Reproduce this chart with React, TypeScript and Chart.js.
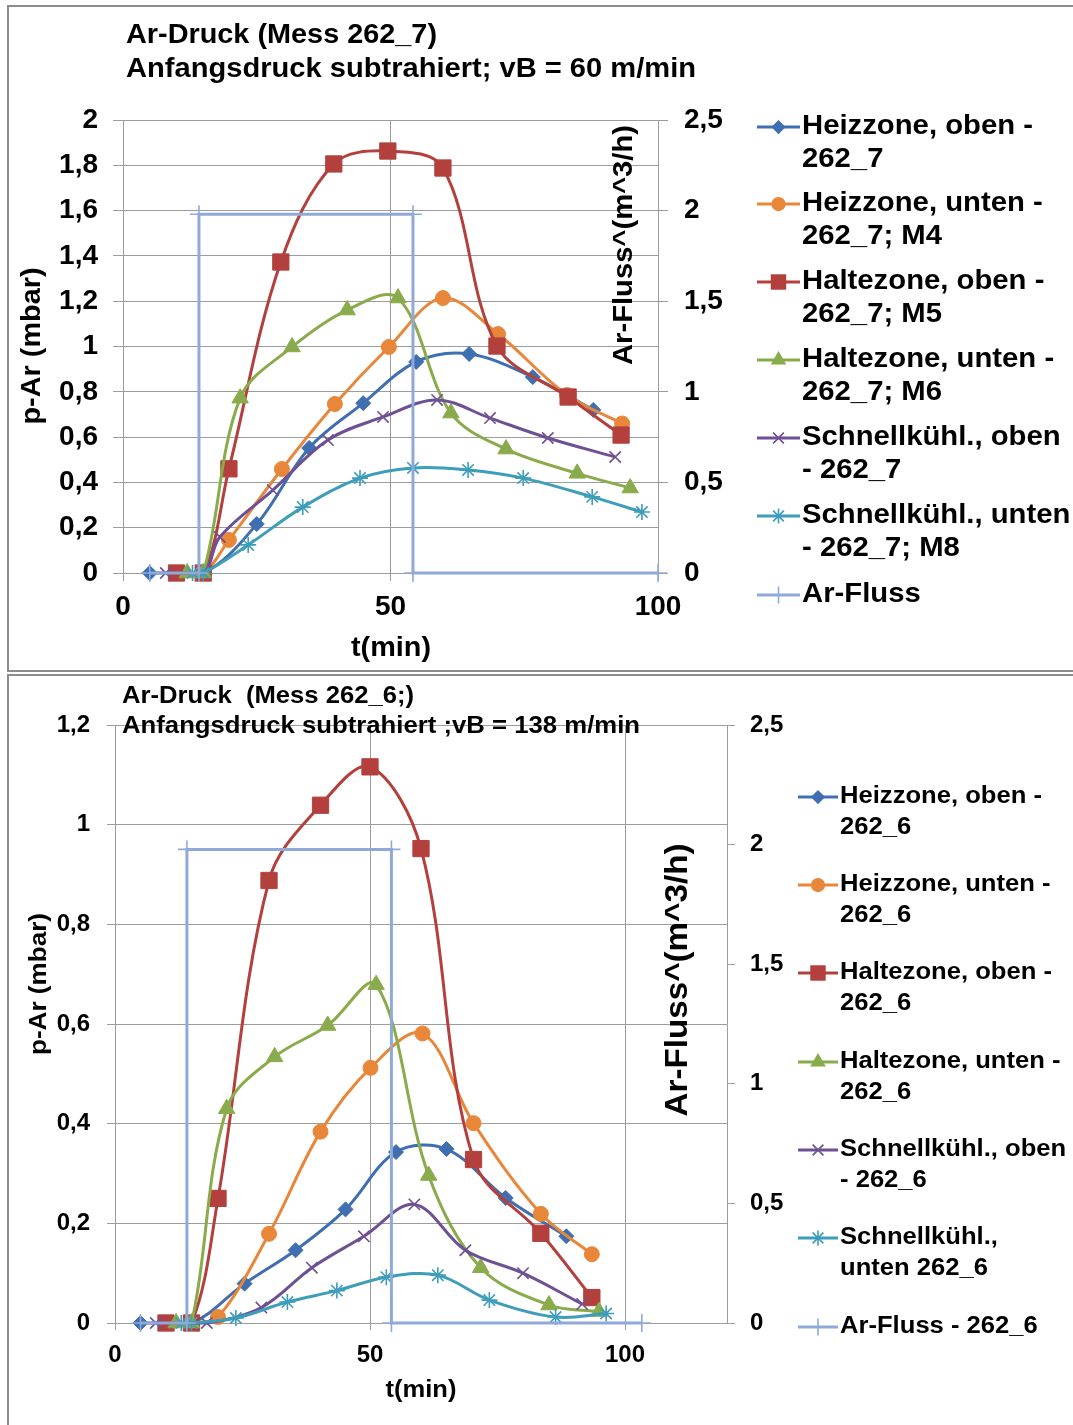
import React, { useEffect, useRef } from "react";
import { Chart, registerables } from "chart.js";

Chart.register(...registerables);

// ---------------- DATA ----------------
// Top chart (Mess 262_7)
const titleTop = ["Ar-Druck (Mess 262_7)", "Anfangsdruck subtrahiert; vB = 60 m/min"];
const legendTop = [
  ["Heizzone, oben -", "262_7"],
  ["Heizzone, unten -", "262_7; M4"],
  ["Haltezone, oben -", "262_7; M5"],
  ["Haltezone, unten -", "262_7; M6"],
  ["Schnellkühl., oben", "- 262_7"],
  ["Schnellkühl., unten", "- 262_7; M8"],
  ["Ar-Fluss"],
];
const tHeizObenTop = [5, 15, 25, 34.8, 44.9, 54.8, 64.7, 76.6, 87.9];
const vHeizObenTop = [0, 0, 0.216, 0.552, 0.75, 0.932, 0.967, 0.865, 0.72];
const tHeizUntenTop = [10, 15, 19.8, 29.7, 39.6, 49.7, 59.8, 70.1, 83.0, 93.3];
const vHeizUntenTop = [0, 0, 0.146, 0.459, 0.746, 0.998, 1.214, 1.055, 0.786, 0.66];
const tHalteObenTop = [10, 15, 19.8, 29.5, 39.4, 49.5, 59.8, 69.9, 83.2, 93.1];
const vHalteObenTop = [0, 0, 0.46, 1.373, 1.806, 1.863, 1.788, 1.002, 0.777, 0.609];
const tHalteUntenTop = [12, 15, 21.9, 31.6, 41.9, 51.4, 61.3, 71.6, 84.9, 94.8];
const vHalteUntenTop = [0, 0, 0.772, 0.998, 1.161, 1.214, 0.706, 0.547, 0.44, 0.375];
const tSchnellObenTop = [8, 15, 18.1, 28, 38.3, 48.6, 58.7, 68.6, 79.4, 92];
const vSchnellObenTop = [0, 0, 0.159, 0.366, 0.587, 0.689, 0.764, 0.684, 0.596, 0.512];
const tSchnellUntenTop = [13, 15, 23.4, 33.6, 44.3, 54.2, 64.5, 74.8, 87.7, 97];
const vSchnellUntenTop = [0, 0, 0.124, 0.291, 0.419, 0.464, 0.455, 0.419, 0.336, 0.269];
const tFlussTop = [5, 14.2, 14.2, 54.2, 54.2, 100];
const vFlussTop = [0, 0, 1.98, 1.98, 0, 0];

// Bottom chart (Mess 262_6)
const titleBot = ["Ar-Druck  (Mess 262_6;)", "Anfangsdruck subtrahiert ;vB = 138 m/min"];
const legendBot = [
  ["Heizzone, oben -", "262_6"],
  ["Heizzone, unten -", "262_6"],
  ["Haltezone, oben -", "262_6"],
  ["Haltezone, unten -", "262_6"],
  ["Schnellkühl., oben", "- 262_6"],
  ["Schnellkühl.,", "unten 262_6"],
  ["Ar-Fluss - 262_6"],
];
const tHeizObenBot = [5, 15, 25.4, 35.4, 45.2, 55.1, 65, 76.6, 88.5];
const vHeizObenBot = [0, 0, 0.079, 0.146, 0.228, 0.343, 0.349, 0.251, 0.174];
const tHeizUntenBot = [10, 15, 20.2, 30.2, 40.3, 50.1, 60.3, 70.3, 83.5, 93.5];
const vHeizUntenBot = [0, 0, 0.012, 0.179, 0.384, 0.512, 0.581, 0.401, 0.219, 0.138];
const tHalteObenBot = [10, 15, 20.2, 30.2, 40.3, 50, 60, 70.3, 83.5, 93.5];
const vHalteObenBot = [0, 0, 0.25, 0.888, 1.039, 1.116, 0.952, 0.328, 0.18, 0.051];
const tHalteUntenBot = [12, 15, 21.9, 31.3, 41.7, 51.2, 61.5, 71.7, 85.1, 94.9];
const vHalteUntenBot = [0, 0, 0.43, 0.534, 0.597, 0.679, 0.296, 0.111, 0.036, 0.023];
const tSchnellObenBot = [8, 18, 28.7, 38.6, 48.8, 58.7, 68.7, 80, 91.6];
const vSchnellObenBot = [0, 0, 0.031, 0.111, 0.174, 0.238, 0.146, 0.1, 0.038];
const tSchnellUntenBot = [13, 15, 23.7, 33.8, 43.5, 53.2, 63.3, 73.4, 86.4, 96.3];
const vSchnellUntenBot = [0, 0, 0.01, 0.042, 0.065, 0.092, 0.096, 0.046, 0.012, 0.019];
const tFlussBot = [5, 14.1, 14.1, 54.2, 54.2, 103.3];
const vFlussBot = [0, 0, 1.98, 1.98, 0, 0];

// ---------------- STYLE ----------------
const FONT = '"Liberation Sans", Arial, Helvetica, sans-serif';
const GRID = "#9c9c9c";
const COLORS = ["#3F6FB0", "#E8873A", "#B3403D", "#8AAB4B", "#6E5095", "#3E9DBB", "#8FAAD8"];
const STYLES = ["rectRot", "circle", "rect", "triangle", "crossRot", "star", "cross"];
const RADII = [7.5, 7.5, 11.5, 9.5, 8, 8, 9];

const fmt = (v: number) => String(Math.round(v * 10) / 10).replace(".", ",");
const pts = (ts: number[], vs: number[]) => ts.map((t, i) => ({ x: t, y: vs[i] }));

function makeDatasets(series: { x: number; y: number }[][]) {
  return series.map((data, i) => {
    const isFluss = i === 6;
    const cross = STYLES[i] === "crossRot" || STYLES[i] === "star" || STYLES[i] === "cross";
    return {
      data,
      yAxisID: isFluss ? "y2" : "y",
      borderColor: COLORS[i],
      backgroundColor: COLORS[i],
      borderWidth: 3,
      tension: isFluss ? 0 : 0.35,
      pointStyle: STYLES[i],
      pointRadius: RADII[i],
      pointBorderWidth: cross ? 1.6 : 1,
      pointBorderColor: COLORS[i],
      pointBackgroundColor: COLORS[i],
      clip: false,
      order: 10 - i,
    };
  });
}

function drawText(
  ctx: CanvasRenderingContext2D,
  s: string,
  x: number,
  y: number,
  size: number,
  o: { align?: CanvasTextAlign; fit?: number; sx?: number; rot?: number; weight?: string } = {}
) {
  ctx.save();
  ctx.font = `${o.weight ?? "bold"} ${size}px ${FONT}`;
  ctx.fillStyle = "#000";
  ctx.textBaseline = "middle";
  ctx.textAlign = o.align ?? "left";
  const w = ctx.measureText(s).width;
  const sx = o.fit ? o.fit / w : o.sx ?? 1;
  ctx.translate(x, y);
  if (o.rot) ctx.rotate(o.rot);
  ctx.scale(sx, 1);
  ctx.fillText(s, 0, 0);
  ctx.restore();
}

function drawMarker(ctx: CanvasRenderingContext2D, style: string, x: number, y: number, r: number, color: string) {
  ctx.save();
  ctx.fillStyle = color;
  ctx.strokeStyle = color;
  ctx.lineWidth = 1.6;
  ctx.beginPath();
  if (style === "circle") {
    ctx.arc(x, y, r, 0, Math.PI * 2);
    ctx.fill();
  } else if (style === "rect") {
    const s = r * Math.SQRT1_2;
    ctx.rect(x - s, y - s, 2 * s, 2 * s);
    ctx.fill();
  } else if (style === "rectRot") {
    ctx.moveTo(x - r, y);
    ctx.lineTo(x, y - r);
    ctx.lineTo(x + r, y);
    ctx.lineTo(x, y + r);
    ctx.closePath();
    ctx.fill();
  } else if (style === "triangle") {
    let a = 0;
    ctx.moveTo(x + Math.sin(a) * r, y - Math.cos(a) * r);
    a += (2 * Math.PI) / 3;
    ctx.lineTo(x + Math.sin(a) * r, y - Math.cos(a) * r);
    a += (2 * Math.PI) / 3;
    ctx.lineTo(x + Math.sin(a) * r, y - Math.cos(a) * r);
    ctx.closePath();
    ctx.fill();
  } else {
    const d = r * Math.SQRT1_2;
    if (style === "crossRot" || style === "star") {
      ctx.moveTo(x - d, y - d);
      ctx.lineTo(x + d, y + d);
      ctx.moveTo(x - d, y + d);
      ctx.lineTo(x + d, y - d);
    }
    if (style === "cross" || style === "star") {
      ctx.moveTo(x, y - r);
      ctx.lineTo(x, y + r);
      ctx.moveTo(x - r, y);
      ctx.lineTo(x + r, y);
    }
    ctx.stroke();
  }
  ctx.restore();
}

type Decor = {
  titles: string[];
  titleX: number;
  titleY: number[];
  titleSize: number;
  titleFit: number[];
  legend: string[][];
  legendY: number[];
  legendGap: number;
  legendSize: number;
  legendFit: number;
  lineX: [number, number];
  textX: number;
  xTitle: [number, number, number, number];
  yTitle: [number, number, number, number];
  y2Title: [number, number, number, number];
};

function decorPlugin(d: Decor) {
  return {
    id: "decor",
    afterDraw(chart: any) {
      const ctx: CanvasRenderingContext2D = chart.ctx;
      d.titles.forEach((t, i) => drawText(ctx, t, d.titleX, d.titleY[i], d.titleSize, { fit: d.titleFit[i] }));
      // axis titles
      drawText(ctx, "t(min)", d.xTitle[0], d.xTitle[1], d.xTitle[2], { align: "center", fit: d.xTitle[3] });
      drawText(ctx, "p-Ar (mbar)", d.yTitle[0], d.yTitle[1], d.yTitle[2], {
        align: "center",
        fit: d.yTitle[3],
        rot: -Math.PI / 2,
      });
      drawText(ctx, "Ar-Fluss^(m^3/h)", d.y2Title[0], d.y2Title[1], d.y2Title[2], {
        align: "center",
        fit: d.y2Title[3],
        rot: -Math.PI / 2,
      });
      // legend
      ctx.save();
      ctx.font = `bold ${d.legendSize}px ${FONT}`;
      const sx = d.legendFit / ctx.measureText(d.legend[0][0]).width;
      ctx.restore();
      d.legend.forEach((lines, i) => {
        const y = d.legendY[i];
        ctx.save();
        ctx.strokeStyle = COLORS[i];
        ctx.lineWidth = 3;
        ctx.beginPath();
        ctx.moveTo(d.lineX[0], y);
        ctx.lineTo(d.lineX[1], y);
        ctx.stroke();
        ctx.restore();
        drawMarker(ctx, STYLES[i], (d.lineX[0] + d.lineX[1]) / 2, y, RADII[i] * 0.95, COLORS[i]);
        lines.forEach((ln, j) => drawText(ctx, ln, d.textX, y + j * d.legendGap, d.legendSize, { sx }));
      });
    },
  };
}

function makeConfig(opts: {
  series: { x: number; y: number }[][];
  padTop: number;
  xMax: number;
  yMax: number;
  yStep: number;
  xHeight: number;
  yWidth: number;
  y2Width: number;
  tickSize: number;
  xTick: [number, number];
  yTick: [number, number];
  y2Tick: [number, number];
  decor: Decor;
}) {
  const tickFont = { family: FONT, size: opts.tickSize, weight: "bold" as const };
  return {
    type: "line" as const,
    data: { datasets: makeDatasets(opts.series) },
    options: {
      responsive: false,
      animation: false as const,
      devicePixelRatio: 1,
      layout: { padding: { top: opts.padTop, left: 0, right: 0, bottom: 0 } },
      plugins: { legend: { display: false }, tooltip: { enabled: false }, title: { display: false } },
      scales: {
        x: {
          type: "linear" as const,
          min: 0,
          max: opts.xMax,
          ticks: { stepSize: 50, includeBounds: false, font: tickFont, color: "#000", padding: opts.xTick[1], maxRotation: 0 },
          grid: { color: GRID, lineWidth: 1, tickLength: opts.xTick[0] },
          border: { color: GRID, width: 1 },
          afterFit: (s: any) => {
            s.height = opts.xHeight;
          },
        },
        y: {
          type: "linear" as const,
          position: "left" as const,
          min: 0,
          max: opts.yMax,
          ticks: { stepSize: opts.yStep, font: tickFont, color: "#000", padding: opts.yTick[1], callback: (v: any) => fmt(Number(v)) },
          grid: { color: GRID, lineWidth: 1, tickLength: opts.yTick[0] },
          border: { color: GRID, width: 1 },
          afterFit: (s: any) => {
            s.width = opts.yWidth;
          },
        },
        y2: {
          type: "linear" as const,
          position: "right" as const,
          min: 0,
          max: 2.5,
          ticks: { stepSize: 0.5, font: tickFont, color: "#000", padding: opts.y2Tick[1], callback: (v: any) => fmt(Number(v)) },
          grid: { color: GRID, lineWidth: 1, tickLength: opts.y2Tick[0], drawOnChartArea: false },
          border: { color: GRID, width: 1 },
          afterFit: (s: any) => {
            s.width = opts.y2Width;
          },
        },
      },
    },
    plugins: [decorPlugin(opts.decor)],
  };
}

const TOP_OFF = 673;

export default function App() {
  const topRef = useRef<HTMLCanvasElement>(null);
  const botRef = useRef<HTMLCanvasElement>(null);

  useEffect(() => {
    const topCfg: any = makeConfig({
      series: [
        pts(tHeizObenTop, vHeizObenTop),
        pts(tHeizUntenTop, vHeizUntenTop),
        pts(tHalteObenTop, vHalteObenTop),
        pts(tHalteUntenTop, vHalteUntenTop),
        pts(tSchnellObenTop, vSchnellObenTop),
        pts(tSchnellUntenTop, vSchnellUntenTop),
        pts(tFlussTop, vFlussTop),
      ],
      padTop: 120,
      xMax: 100,
      yMax: 2,
      yStep: 0.2,
      xHeight: 673 - 573,
      yWidth: 123,
      y2Width: 1073 - 658,
      tickSize: 28,
      xTick: [8, 9],
      yTick: [10, 15],
      y2Tick: [10, 16],
      decor: {
        titles: titleTop,
        titleX: 126,
        titleY: [35, 69],
        titleSize: 28,
        titleFit: [311, 570],
        legend: legendTop,
        legendY: [127, 204, 282, 360, 438, 516, 595],
        legendGap: 33,
        legendSize: 27,
        legendFit: 231,
        lineX: [757, 800],
        textX: 802,
        xTitle: [391, 649, 27, 80],
        yTitle: [33, 346, 27, 157],
        y2Title: [624, 245, 28, 240],
      },
    });
    const botCfg: any = makeConfig({
      series: [
        pts(tHeizObenBot, vHeizObenBot),
        pts(tHeizUntenBot, vHeizUntenBot),
        pts(tHalteObenBot, vHalteObenBot),
        pts(tHalteUntenBot, vHalteUntenBot),
        pts(tSchnellObenBot, vSchnellObenBot),
        pts(tSchnellUntenBot, vSchnellUntenBot),
        pts(tFlussBot, vFlussBot),
      ],
      padTop: 725 - TOP_OFF,
      xMax: 120,
      yMax: 1.2,
      yStep: 0.2,
      xHeight: 752 - (1323 - TOP_OFF),
      yWidth: 115,
      y2Width: 1073 - 727,
      tickSize: 24,
      xTick: [7, 11],
      yTick: [8, 17],
      y2Tick: [8, 15],
      decor: {
        titles: titleBot,
        titleX: 122,
        titleY: [696 - TOP_OFF, 726 - TOP_OFF],
        titleSize: 24,
        titleFit: [292, 518],
        legend: legendBot,
        legendY: [797, 885, 973, 1062, 1150, 1238, 1327].map((v) => v - TOP_OFF),
        legendGap: 31,
        legendSize: 23,
        legendFit: 202,
        lineX: [798, 838],
        textX: 840,
        xTitle: [421, 1391 - TOP_OFF, 23, 71],
        yTitle: [40, 984 - TOP_OFF, 23, 142],
        y2Title: [678, 980 - TOP_OFF, 32, 273],
      },
    });
    const c1 = new Chart(topRef.current as HTMLCanvasElement, topCfg);
    const c2 = new Chart(botRef.current as HTMLCanvasElement, botCfg);
    return () => {
      c1.destroy();
      c2.destroy();
    };
  }, []);

  return (
    <div style={{ position: "absolute", left: 0, top: 0, width: 1073, height: 1425, overflow: "hidden", background: "#fff" }}>
      <div style={{ position: "absolute", left: 7, top: 5, width: 1100, height: 663, border: "2px solid #8c8c8c" }} />
      <div style={{ position: "absolute", left: 7, top: 674, width: 1100, height: 800, border: "2px solid #8c8c8c" }} />
      <canvas
        ref={topRef}
        width={1073}
        height={673}
        style={{ position: "absolute", left: 0, top: 0, width: 1073, height: 673 }}
      />
      <canvas
        ref={botRef}
        width={1073}
        height={752}
        style={{ position: "absolute", left: 0, top: TOP_OFF, width: 1073, height: 752 }}
      />
    </div>
  );
}
